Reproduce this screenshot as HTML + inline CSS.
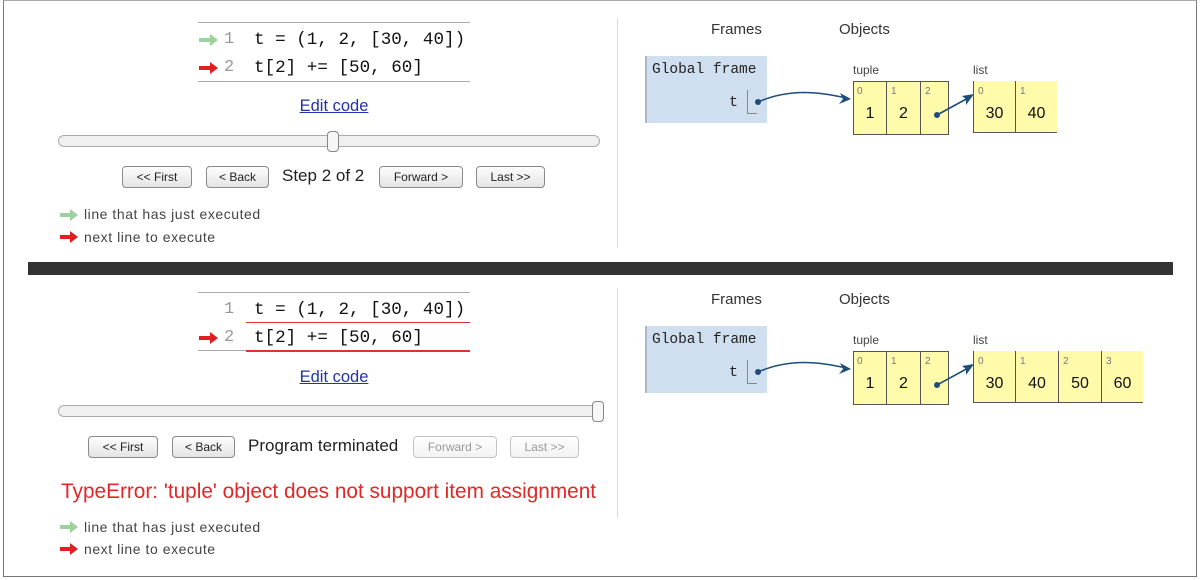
<!DOCTYPE html>
<html><head><meta charset="utf-8">
<style>
*{margin:0;padding:0;box-sizing:border-box}
body{width:1200px;height:580px;background:#fff;position:relative;overflow:hidden;font-family:"Liberation Sans",sans-serif;color:#222}
.a{position:absolute}
.mono{font-family:"Liberation Mono",monospace}
.code{font-size:17.6px;color:#111;white-space:pre}
.ln{font-size:17px;color:#999;font-family:"Liberation Mono",monospace}
.hl{background:#aaa;height:1px}
.btn{position:absolute;height:22px;border:1px solid #8a8a8a;border-radius:4px;background:linear-gradient(#fdfdfd,#e4e4e4);font-size:12px;text-align:center;line-height:20px;color:#222}
.dis{color:#999;border-color:#c4c4c4;background:linear-gradient(#fff,#f2f2f2)}
.slider{position:absolute;height:12px;border:1px solid #aaa;border-radius:6px;background:#f0f0f0}
.thumb{position:absolute;width:12px;height:21px;border:1px solid #888;border-radius:4px;background:#f6f6f6}
.edit{position:absolute;font-size:16.5px;color:#2233aa;text-decoration:underline;width:120px;text-align:center}
.leg{position:absolute;font-size:14px;letter-spacing:0.55px;color:#444;white-space:nowrap}
.hdr{position:absolute;font-size:15px;color:#333}
.frame{position:absolute;background:#d0dff0;border-left:2px solid #a8b8c8}
.olab{position:absolute;font-size:12px;color:#444}
.cell{position:absolute;background:#fffbab}
.idx{position:absolute;font-size:10px;color:#777}
.val{position:absolute;font-size:16px;color:#111;text-align:center}
</style></head><body>
<div class="a" style="left:3px;top:0;width:1194px;height:577px;border:1px solid #777;border-top-color:#aaa"></div>
<div class="a" style="left:28px;top:262px;width:1145px;height:13px;background:#333"></div>
<div class="a" style="left:617px;top:18px;width:1px;height:230px;background:#ddd"></div>
<div class="a" style="left:617px;top:288px;width:1px;height:230px;background:#ddd"></div>

<!-- ===== TOP PANEL ===== -->
<div class="a hl" style="left:198px;top:22px;width:272px"></div>
<div class="a hl" style="left:198px;top:81px;width:272px"></div>
<svg class="a" style="left:198px;top:33px" width="22" height="44">
<path d="M1 7h12" stroke="#9ed09e" stroke-width="4"/><path d="M12 1l8 6-8 6z" fill="#9ed09e"/>
<path d="M1 35h12" stroke="#e02020" stroke-width="4"/><path d="M12 29l8 6-8 6z" fill="#e02020"/>
</svg>
<div class="a ln" style="left:224px;top:30px">1</div>
<div class="a ln" style="left:224px;top:58px">2</div>
<div class="a mono code" style="left:254px;top:30px">t = (1, 2, [30, 40])</div>
<div class="a mono code" style="left:254px;top:58px">t[2] += [50, 60]</div>
<div class="edit" style="left:274px;top:97px">Edit code</div>
<div class="slider" style="left:58px;top:135px;width:542px"></div>
<div class="thumb" style="left:327px;top:131px"></div>
<div class="btn" style="left:122px;top:166px;width:70px">&lt;&lt; First</div>
<div class="btn" style="left:206px;top:166px;width:63px">&lt; Back</div>
<div class="a" style="left:282px;top:166px;font-size:17px;color:#222;white-space:nowrap">Step 2 of 2</div>
<div class="btn" style="left:379px;top:166px;width:84px">Forward &gt;</div>
<div class="btn" style="left:476px;top:166px;width:69px">Last &gt;&gt;</div>
<svg class="a" style="left:59px;top:208px" width="22" height="36">
<path d="M1 7h11" stroke="#9ed09e" stroke-width="4"/><path d="M11 1l8 6-8 6z" fill="#9ed09e"/>
<path d="M1 29h11" stroke="#e02020" stroke-width="4"/><path d="M11 23l8 6-8 6z" fill="#e02020"/>
</svg>
<div class="leg" style="left:84px;top:206px">line that has just executed</div>
<div class="leg" style="left:84px;top:229px">next line to execute</div>

<div class="hdr" style="left:711px;top:21px">Frames</div>
<div class="hdr" style="left:839px;top:21px">Objects</div>
<div class="frame" style="left:645px;top:56px;width:122px;height:67px"></div>
<div class="a mono" style="left:652px;top:62px;font-size:14.5px;color:#222">Global frame</div>
<div class="a mono" style="left:729px;top:94px;font-size:15px;color:#222">t</div>
<div class="a" style="left:747px;top:90px;width:10px;height:24px;border-left:1px solid #888;border-bottom:1px solid #888"></div>

<div class="olab" style="left:853px;top:63px">tuple</div>
<div class="cell" style="left:853px;top:81px;width:96px;height:54px;border:1px solid #555"></div>
<div class="a" style="left:886px;top:81px;width:1px;height:54px;background:#555"></div>
<div class="a" style="left:920px;top:81px;width:1px;height:54px;background:#555"></div>
<div class="idx" style="left:857px;top:86px">0</div><div class="idx" style="left:891px;top:86px">1</div><div class="idx" style="left:925px;top:86px">2</div>
<div class="val" style="left:854px;top:105px;width:32px">1</div>
<div class="val" style="left:887px;top:105px;width:33px">2</div>

<div class="olab" style="left:973px;top:63px">list</div>
<div class="cell" style="left:973px;top:81px;width:84px;height:52px;border-left:1px solid #555;border-bottom:1px solid #555"></div>
<div class="a" style="left:1015px;top:81px;width:1px;height:52px;background:#555"></div>
<div class="idx" style="left:978px;top:86px">0</div><div class="idx" style="left:1020px;top:86px">1</div>
<div class="val" style="left:974px;top:105px;width:41px">30</div>
<div class="val" style="left:1016px;top:105px;width:41px">40</div>

<!-- ===== BOTTOM PANEL ===== -->
<div class="a hl" style="left:198px;top:292px;width:272px"></div>
<div class="a hl" style="left:198px;top:350px;width:48px"></div>
<div class="a" style="left:246px;top:322px;width:224px;height:1px;background:#e03030"></div>
<div class="a" style="left:246px;top:350px;width:224px;height:2px;background:#e03030"></div>
<svg class="a" style="left:198px;top:331px" width="22" height="16">
<path d="M1 7h12" stroke="#e02020" stroke-width="4"/><path d="M12 1l8 6-8 6z" fill="#e02020"/>
</svg>
<div class="a ln" style="left:224px;top:300px">1</div>
<div class="a ln" style="left:224px;top:328px">2</div>
<div class="a mono code" style="left:254px;top:300px">t = (1, 2, [30, 40])</div>
<div class="a mono code" style="left:254px;top:328px">t[2] += [50, 60]</div>
<div class="edit" style="left:274px;top:368px">Edit code</div>
<div class="slider" style="left:58px;top:405px;width:542px"></div>
<div class="thumb" style="left:592px;top:401px"></div>
<div class="btn" style="left:88px;top:436px;width:70px">&lt;&lt; First</div>
<div class="btn" style="left:172px;top:436px;width:63px">&lt; Back</div>
<div class="a" style="left:248px;top:436px;font-size:17px;color:#222;white-space:nowrap">Program terminated</div>
<div class="btn dis" style="left:413px;top:436px;width:84px">Forward &gt;</div>
<div class="btn dis" style="left:510px;top:436px;width:69px">Last &gt;&gt;</div>
<div class="a" style="left:61px;top:480px;font-size:20.8px;color:#e02828;white-space:nowrap">TypeError: 'tuple' object does not support item assignment</div>
<svg class="a" style="left:59px;top:520px" width="22" height="36">
<path d="M1 7h11" stroke="#9ed09e" stroke-width="4"/><path d="M11 1l8 6-8 6z" fill="#9ed09e"/>
<path d="M1 29h11" stroke="#e02020" stroke-width="4"/><path d="M11 23l8 6-8 6z" fill="#e02020"/>
</svg>
<div class="leg" style="left:84px;top:519px">line that has just executed</div>
<div class="leg" style="left:84px;top:541px">next line to execute</div>

<div class="hdr" style="left:711px;top:291px">Frames</div>
<div class="hdr" style="left:839px;top:291px">Objects</div>
<div class="frame" style="left:645px;top:326px;width:122px;height:67px"></div>
<div class="a mono" style="left:652px;top:332px;font-size:14.5px;color:#222">Global frame</div>
<div class="a mono" style="left:729px;top:364px;font-size:15px;color:#222">t</div>
<div class="a" style="left:747px;top:360px;width:10px;height:24px;border-left:1px solid #888;border-bottom:1px solid #888"></div>

<div class="olab" style="left:853px;top:333px">tuple</div>
<div class="cell" style="left:853px;top:351px;width:96px;height:54px;border:1px solid #555"></div>
<div class="a" style="left:886px;top:351px;width:1px;height:54px;background:#555"></div>
<div class="a" style="left:920px;top:351px;width:1px;height:54px;background:#555"></div>
<div class="idx" style="left:857px;top:356px">0</div><div class="idx" style="left:891px;top:356px">1</div><div class="idx" style="left:925px;top:356px">2</div>
<div class="val" style="left:854px;top:375px;width:32px">1</div>
<div class="val" style="left:887px;top:375px;width:33px">2</div>

<div class="olab" style="left:973px;top:333px">list</div>
<div class="cell" style="left:973px;top:351px;width:170px;height:52px;border-left:1px solid #555;border-bottom:1px solid #555"></div>
<div class="a" style="left:1015px;top:351px;width:1px;height:52px;background:#555"></div>
<div class="a" style="left:1058px;top:351px;width:1px;height:52px;background:#555"></div>
<div class="a" style="left:1101px;top:351px;width:1px;height:52px;background:#555"></div>
<div class="idx" style="left:978px;top:356px">0</div><div class="idx" style="left:1020px;top:356px">1</div><div class="idx" style="left:1063px;top:356px">2</div><div class="idx" style="left:1106px;top:356px">3</div>
<div class="val" style="left:974px;top:375px;width:41px">30</div>
<div class="val" style="left:1016px;top:375px;width:42px">40</div>
<div class="val" style="left:1059px;top:375px;width:42px">50</div>
<div class="val" style="left:1102px;top:375px;width:41px">60</div>

<svg class="a" style="left:0;top:0" width="1200" height="580">
<g fill="none" stroke="#1d4d78" stroke-width="1.6">
<path d="M758 102 C790 88 820 92 846 98"/>
<path d="M937 115 L970 97"/>
<path d="M758 372 C790 358 820 362 846 368"/>
<path d="M937 385 L970 367"/>
</g>
<g fill="#1d4d78">
<circle cx="758" cy="102" r="3"/><circle cx="937" cy="115" r="3"/>
<circle cx="758" cy="372" r="3"/><circle cx="937" cy="385" r="3"/>
<path d="M851 99 L840 93 L843 99 L839 104 Z"/>
<path d="M974 94 L962 96 L966 99 L966 105 Z"/>
<path d="M851 369 L840 363 L843 369 L839 374 Z"/>
<path d="M974 364 L962 366 L966 369 L966 375 Z"/>
</g>
</svg>
</body></html>
